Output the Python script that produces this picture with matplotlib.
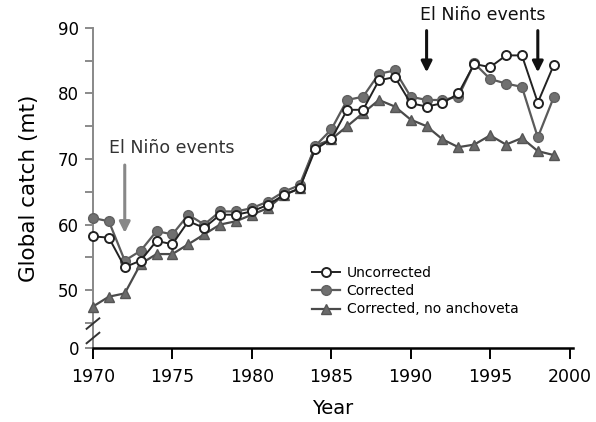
import matplotlib.pyplot as plt
import numpy as np

years = np.arange(1970, 2000)

uncorrected = [58.2, 58.0, 53.5, 54.5, 57.5, 57.0, 60.5, 59.5, 61.5, 61.5,
               62.0, 63.0, 64.5, 65.5, 71.5, 73.0, 77.5, 77.5, 82.0, 82.5,
               78.5, 78.0, 78.5, 80.0, 84.5, 84.0, 85.8, 85.8, 78.6, 84.3]
corrected = [61.0, 60.5, 54.5, 56.0, 59.0, 58.5, 61.5, 60.0, 62.0, 62.0,
             62.5, 63.5, 65.0, 66.0, 72.0, 74.5, 79.0, 79.5, 83.0, 83.5,
             79.5, 79.0, 79.0, 79.5, 84.6, 82.2, 81.5, 81.0, 73.3, 79.4]
no_anchoveta = [47.5, 49.0, 49.5, 54.0, 55.5, 55.5, 57.0, 58.5, 60.0, 60.5,
                61.5, 62.5, 64.5, 65.5, 72.0, 73.0, 75.0, 77.0, 79.0, 78.0,
                76.0, 75.0, 73.0, 71.8, 72.2, 73.6, 72.2, 73.2, 71.2, 70.6]

y_zero = 41.15  # where the "0" of the broken axis sits

fig = plt.figure(figsize=(5.96, 4.22), dpi=100)
ax = fig.add_axes([0.156, 0.175, 0.805, 0.759])

l3, = ax.plot(years, no_anchoveta, '-^', color='#4a4a4a', mfc='#6a6a6a', mec='#555555',
              ms=7, lw=1.6, label='Corrected, no anchoveta', clip_on=False, zorder=3)
l2, = ax.plot(years, corrected, '-o', color='#5a5a5a', mfc='#707070', mec='#606060',
              ms=7, lw=1.6, label='Corrected', clip_on=False, zorder=4)
l1, = ax.plot(years, uncorrected, '-o', color='#222222', mfc='white', mec='#222222',
              ms=6.5, mew=1.4, lw=1.4, label='Uncorrected', clip_on=False, zorder=5)

ax.set_xlim(1970, 2000.2)
ax.set_ylim(y_zero, 90)
ax.set_xticks([1970, 1975, 1980, 1985, 1990, 1995, 2000])
ax.set_yticks([y_zero, 50, 60, 70, 80, 90])
ax.set_yticklabels(['0', '50', '60', '70', '80', '90'])
ax.set_yticks([45, 55, 65, 75, 85], minor=True)
ax.tick_params(axis='x', direction='out', length=8, width=1.4, labelsize=12.5, pad=6)
ax.tick_params(axis='y', which='both', direction='out', length=6, width=1.2,
               labelsize=12, color='#777777', pad=4)

for s in ['top', 'right']:
    ax.spines[s].set_visible(False)
ax.spines['left'].set_color('#888888')
ax.spines['left'].set_linewidth(1.4)
ax.spines['bottom'].set_linewidth(1.8)

# break marks on the y axis
for dy in (0, 2.2):
    ax.plot([1969.6, 1970.4], [41.9 + dy, 43.5 + dy], color='#333333', lw=1.4,
            clip_on=False, zorder=6)

ax.set_xlabel('Year', fontsize=14, labelpad=10)
ax.set_ylabel('Global catch (mt)', fontsize=15.5, labelpad=14)

# El Niño annotations
ax.text(1971.0, 71.7, 'El Niño events', fontsize=12.5, color='#333333', va='center')
ax.annotate('', xy=(1972, 58.3), xytext=(1972, 69.5),
            arrowprops=dict(arrowstyle='-|>', color='#888888', lw=2.2,
                            mutation_scale=16))
ax.text(1990.6, 92.0, 'El Niño events', fontsize=12.5, color='#111111',
        va='center', clip_on=False)
for yr in (1991, 1998):
    ax.annotate('', xy=(yr, 82.8), xytext=(yr, 90.0),
                arrowprops=dict(arrowstyle='-|>', color='#111111', lw=2.2,
                                mutation_scale=16), annotation_clip=False)

ax.legend(handles=[l1, l2, l3], loc='lower left', bbox_to_anchor=(0.43, 0.06),
          frameon=False, fontsize=10, handlelength=2.0, labelspacing=0.3,
          handletextpad=0.5)

plt.savefig('out.png')
